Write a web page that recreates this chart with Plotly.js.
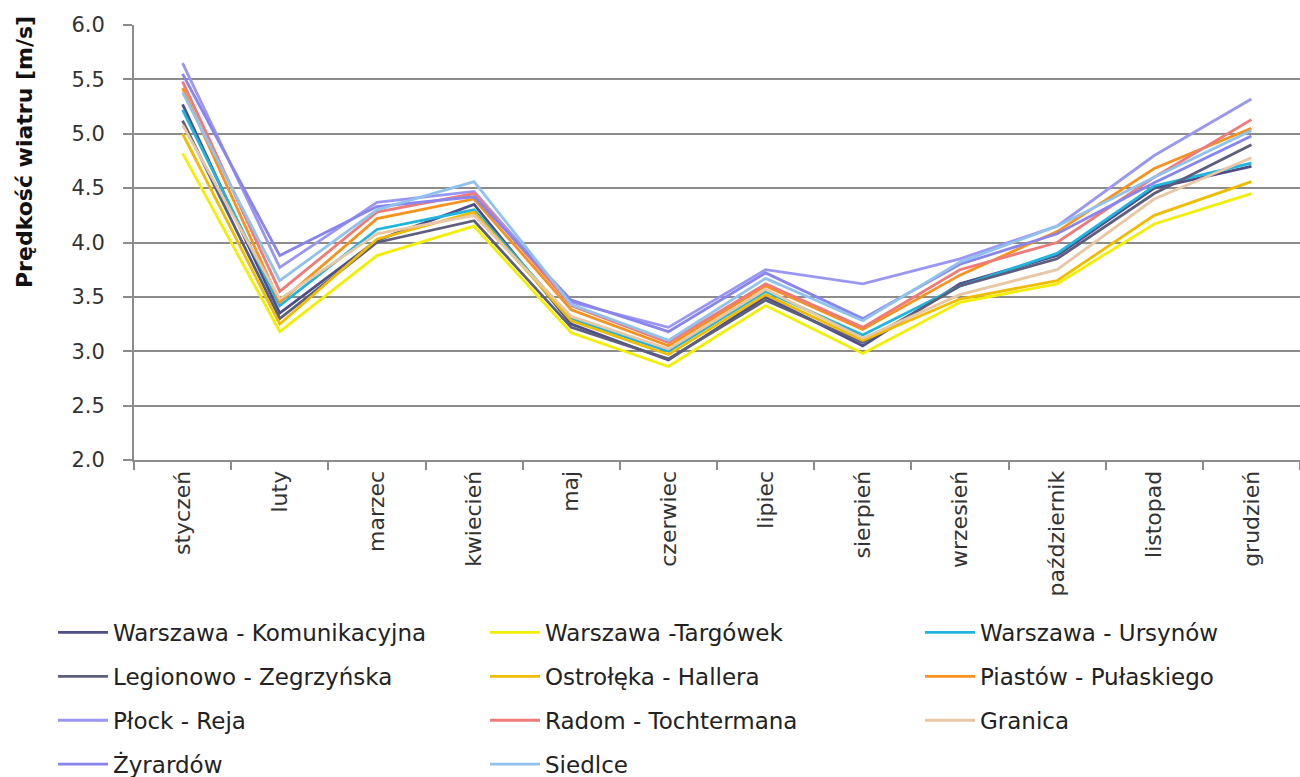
<!DOCTYPE html>
<html>
<head>
<meta charset="utf-8">
<script src="https://cdn.plot.ly/plotly-3.0.1.min.js"></script>
<style>html,body{margin:0;padding:0;background:#fff;}#chart{width:1300px;height:777px;}</style>
</head>
<body>
<div id="chart"></div>
<script>
const months = ["styczeń","luty","marzec","kwiecień","maj","czerwiec","lipiec","sierpień","wrzesień","październik","listopad","grudzień"];

const komunikacyjna = [5.27, 3.35, 4.02, 4.35, 3.25, 2.92, 3.50, 3.05, 3.62, 3.88, 4.50, 4.70];
const targowek      = [4.82, 3.18, 3.88, 4.15, 3.17, 2.86, 3.42, 2.98, 3.45, 3.62, 4.17, 4.45];
const ursynow       = [5.22, 3.42, 4.12, 4.30, 3.30, 3.00, 3.55, 3.15, 3.60, 3.90, 4.52, 4.73];
const legionowo     = [5.12, 3.30, 4.00, 4.20, 3.22, 2.93, 3.47, 3.08, 3.60, 3.85, 4.45, 4.90];
const ostroleka     = [5.00, 3.25, 4.03, 4.28, 3.28, 2.97, 3.52, 3.10, 3.48, 3.65, 4.25, 4.56];
const piastow       = [5.42, 3.45, 4.22, 4.40, 3.38, 3.05, 3.60, 3.20, 3.70, 4.10, 4.68, 5.05];
const plock         = [5.65, 3.77, 4.37, 4.47, 3.45, 3.22, 3.75, 3.62, 3.85, 4.15, 4.80, 5.32];
const radom         = [5.48, 3.55, 4.28, 4.45, 3.42, 3.08, 3.62, 3.22, 3.75, 4.00, 4.60, 5.13];
const granica       = [5.08, 3.48, 4.08, 4.25, 3.32, 3.02, 3.57, 3.12, 3.52, 3.75, 4.40, 4.78];
const zyrardow      = [5.55, 3.88, 4.33, 4.42, 3.47, 3.18, 3.72, 3.30, 3.80, 4.08, 4.55, 4.98];
const siedlce       = [5.38, 3.65, 4.30, 4.56, 3.43, 3.10, 3.67, 3.28, 3.82, 4.15, 4.60, 5.03];

const seriesNames = ["Warszawa - Komunikacyjna","Warszawa -Targówek","Warszawa - Ursynów",
  "Legionowo - Zegrzyńska","Ostrołęka - Hallera","Piastów - Pułaskiego",
  "Płock - Reja","Radom - Tochtermana","Granica","Żyrardów","Siedlce"];
const seriesValues = [komunikacyjna, targowek, ursynow, legionowo, ostroleka, piastow, plock, radom, granica, zyrardow, siedlce];
const seriesColors = ["#4e4f88","#f2f000","#1fb5de","#5d5e7e","#f0bc00","#f7921c","#9a96f4","#f07a78","#e9c6a4","#8884f0","#90c2ee"];
// legend column for each series (legend laid out as 3 columns, filled row by row)
const legendCol = ["legend","legend2","legend3","legend","legend2","legend3","legend","legend2","legend3","legend","legend2"];

const traces = seriesNames.map((n, i) => ({
  type: "scatter", mode: "lines", name: n, x: months, y: seriesValues[i],
  line: {color: seriesColors[i], width: 2.8},
  legend: legendCol[i], legendgroup: "g" + i
}));

const W = 1300, H = 777;
const plotTop = 25, plotBottom = 460, plotLeft = 134, plotW = 1166;
function py(p) { return (plotBottom - p) / (plotBottom - plotTop); }
function px(xx) { return (xx - plotLeft) / plotW; }
function legendCfg(xx) {
  return {
    orientation: "v", xref: "container", x: xx / W, xanchor: "left",
    yref: "container", y: 1 - 611 / H, yanchor: "top",
    font: {family: "DejaVu Sans", size: 23, color: "#222"},
    bgcolor: "rgba(0,0,0,0)", itemwidth: 50, tracegroupgap: 11,
    traceorder: "grouped"
  };
}

const layout = {
  width: W, height: H,
  margin: {l: plotLeft, r: 0, t: plotTop, b: H - plotBottom, autoexpand: false},
  paper_bgcolor: "#fff", plot_bgcolor: "#fff",
  font: {family: "DejaVu Sans", color: "#333"},
  showlegend: true,
  legend: legendCfg(53),
  legend2: legendCfg(485),
  legend3: legendCfg(920),
  xaxis: {
    type: "category", range: [-0.5, 11.5], autorange: false,
    tickangle: -90, tickson: "boundaries",
    ticks: "outside", ticklen: 8, tickcolor: "#8c8c8c", tickwidth: 2,
    showline: true, linecolor: "#8c8c8c", linewidth: 2,
    showgrid: false, zeroline: false, automargin: false,
    tickfont: {family: "DejaVu Sans", size: 22, color: "#333"}
  },
  yaxis: {
    range: [2, 6], dtick: 0.5, tickformat: ".1f",
    ticks: "outside", ticklen: 9, tickcolor: "#8c8c8c", tickwidth: 2,
    showline: true, linecolor: "#8c8c8c", linewidth: 2,
    gridcolor: "#8c8c8c", gridwidth: 2, zeroline: false, automargin: false,
    ticklabelstandoff: 14,
    tickfont: {family: "DejaVu Sans", size: 21, color: "#333"}
  },
  annotations: [{
    text: "<b>Prędkość wiatru [m/s]</b>", textangle: -90,
    xref: "paper", yref: "paper", x: px(24), y: py(152),
    xanchor: "center", yanchor: "middle", showarrow: false,
    font: {family: "DejaVu Sans", size: 22, color: "#111"}
  }]
};

Plotly.newPlot("chart", traces, layout, {displayModeBar: false, staticPlot: true});
</script>
</body>
</html>
